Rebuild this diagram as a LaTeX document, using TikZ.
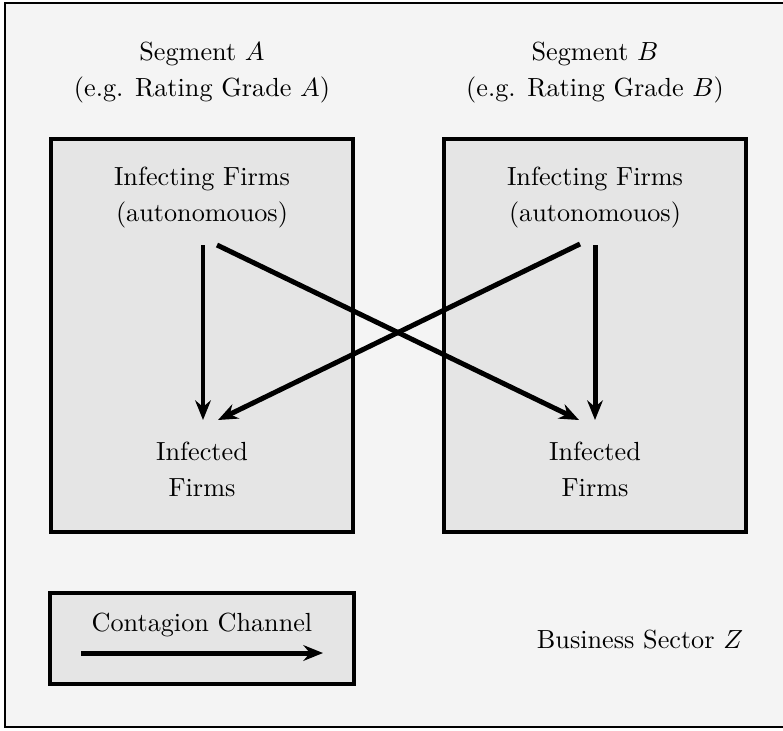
\documentclass[tikz,border=0pt]{standalone}
\usetikzlibrary{arrows.meta}
\definecolor{outerbg}{RGB}{244,244,244}
\definecolor{boxbg}{RGB}{229,229,229}
\begin{document}
\begin{tikzpicture}[x=0.3817pt,y=-0.3817pt,
  txt/.style={font=\fontsize{10}{13.5}\selectfont, align=center, inner sep=0pt},
  segbox/.style={draw=black, line width=1.2pt, fill=boxbg},
  chan/.style={line width=1.9pt, -{Stealth[length=7.5pt,width=6pt,inset=2.5pt]}}]
\useasboundingbox (0,0) rectangle (783,730);
\draw[fill=outerbg, line width=0.8pt] (5,3) rectangle (792,727);
% segment boxes
\draw[segbox] (51,139) rectangle (353,532);
\draw[segbox] (444,139) rectangle (746,532);
% texts
\node[txt] (segA) at (202,72.5) {Segment $A$\\(e.g. Rating Grade $A$)};
\node[txt] (segB) at (595,72.5) {Segment $B$\\(e.g. Rating Grade $B$)};
\node[txt] (infgA) at (202,197.5) {Infecting Firms\\(autonomouos)};
\node[txt] (infgB) at (595,197.5) {Infecting Firms\\(autonomouos)};
\node[txt] (infdA) at (202,469.5) {Infected\\Firms};
\node[txt] (infdB) at (595,469.5) {Infected\\Firms};
% arrow endpoints
\coordinate (a1s) at (203,245); \coordinate (a1e) at (203,420);
\coordinate (a2s) at (217,245); \coordinate (a2e) at (579,420);
\coordinate (b1s) at (595,245); \coordinate (b1e) at (595,420);
\coordinate (b2s) at (580,244); \coordinate (b2e) at (218,420);
\draw[chan] (a1s) -- (a1e);
\draw[chan] (a2s) -- (a2e);
\draw[chan] (b1s) -- (b1e);
\draw[chan] (b2s) -- (b2e);
% legend
\draw[segbox] (50,593) rectangle (354,684);
\node[txt, anchor=base] (leg) at (202,631) {Contagion Channel};
\coordinate (l1) at (81,653); \coordinate (l2) at (323,653);
\draw[chan] (l1) -- (l2);
\node[txt, anchor=base] (sector) at (640,648) {Business Sector $Z$};
\end{tikzpicture}
\end{document}
